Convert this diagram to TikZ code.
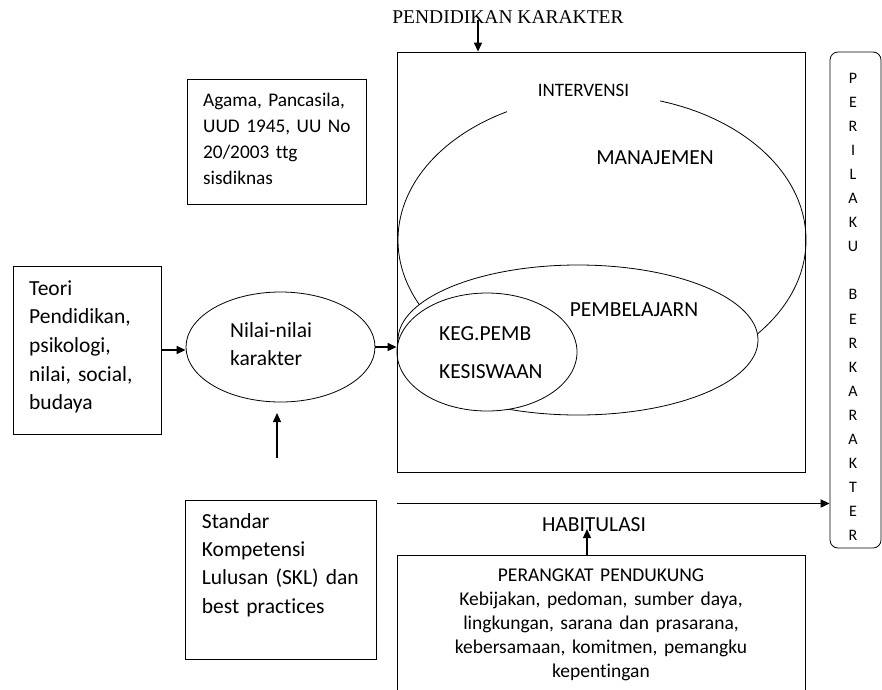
\documentclass[tikz,border=0pt]{standalone}
\usepackage{fontspec}
\setmainfont{Carlito}[Ligatures={NoCommon,NoContextual}]
\newfontfamily\serifttl{Liberation Serif}
\usetikzlibrary{shapes.geometric,arrows.meta}
\begin{document}
\begin{tikzpicture}[x=1pt,y=-1pt,
  box/.style={draw, line width=0.8pt, inner sep=0pt},
  oval/.style={draw, ellipse, line width=0.8pt, inner sep=0pt},
  arr/.style={line width=1.3pt, -{Triangle[length=9pt,width=8pt]}},
  big/.style={inner sep=0pt, font=\fontsize{21.5}{28.7}\selectfont},
  lbl/.style={big, anchor=base west, text width=150pt, align=left},
  mid/.style={inner sep=0pt, font=\fontsize{19.5}{24}\selectfont}
]
\clip (0,0) rectangle (882,689);

% ellipses inside the main box
\node[oval, minimum width=408pt, minimum height=290pt] (manaj) at (602,240) {};
\fill[white] (507,84) rectangle (660,113);
\node[oval, fill=white, minimum width=360pt, minimum height=150pt] (pemb) at (578,340) {};
\node[oval, fill=white, minimum width=180pt, minimum height=118pt] (keg) at (487,352) {};
\node[box, minimum width=408pt, minimum height=420pt] (main) at (601,262) {};

\node[mid, anchor=base, font=\fontsize{19}{22}\selectfont] (interv) at (583.5,96) {INTERVENSI};
\node[big, anchor=base] (manajt) at (655,164) {MANAJEMEN};
\node[big, anchor=base] (pembt) at (634,316) {PEMBELAJARN};
\node[big, anchor=base west] (kegt) at (439,340) {KEG.PEMB};
\node[big, anchor=base west] (kest) at (439,378) {KESISWAAN};

% title
\node[inner sep=0pt, anchor=base, font=\serifttl\fontsize{19.5}{22}\selectfont] (title) at (508,23) {PENDIDIKAN KARAKTER};
\coordinate (ttop) at (478,20);
\draw[arr] (ttop) -- (ttop |- main.north);

% left box
\node[box, minimum width=148pt, minimum height=168pt] (teori) at (87,350) {};
\node[lbl, text width=130pt] (teorit) at (29,295) {Teori\\Pendidikan,\\psikologi,\\nilai, social,\\budaya};

% nilai ellipse
\node[oval, minimum width=189pt, minimum height=110pt] (nilai) at (280.5,347) {};
\node[lbl, text width=120pt] (nilait) at (230,337) {Nilai-nilai\\karakter};

% agama box
\node[box, minimum width=179pt, minimum height=125pt] (agama) at (276.5,141.5) {};
\node[lbl, font=\fontsize{19.3}{25.8}\selectfont, text width=165pt] (agamat) at (203,106.7) {Agama, Pancasila,\\UUD 1945, UU No\\20/2003 ttg\\sisdiknas};

% SKL box
\node[box, minimum width=191pt, minimum height=159pt] (skl) at (280.5,579.5) {};
\node[lbl, font=\fontsize{21.5}{28.3}\selectfont, text width=175pt] (sklt) at (201.7,528.3) {Standar\\Kompetensi\\Lulusan (SKL) dan\\best practices};

% perangkat box
\node[box, minimum width=408pt, minimum height=145pt] (perangkat) at (601,627.5) {};
\node[mid, anchor=base, text width=400pt, align=center] (perangkatt) at (601,581.7) {PERANGKAT PENDUKUNG\\Kebijakan, pedoman, sumber daya,\\lingkungan, sarana dan prasarana,\\kebersamaan, komitmen, pemangku\\kepentingan};

% perilaku box
\node[box, rounded corners=8pt, minimum width=51pt, minimum height=496pt] (peril) at (855.5,300) {};
\begin{scope}
\clip (831,53) rectangle (880,539);
\node[inner sep=0pt, anchor=base, text width=20pt, align=center, font=\fontsize{16}{24.1}\selectfont] (perilt) at (853,83) {P\\E\\R\\I\\L\\A\\K\\U\\[24.1pt]B\\E\\R\\K\\A\\R\\A\\K\\T\\E\\R};
\end{scope}

% connectors
\draw[arr] (teori.east) -- (teori.east -| nilai.west);
\draw[arr] (nilai.east) -- (nilai.east -| main.west);
\coordinate (sklA) at (277,458);
\coordinate (sklB) at (277,413);
\draw[arr] (sklA) -- (sklB);
\coordinate (hab0) at (397,503.5);
\draw[arr, line width=1.8pt] (hab0) -- (hab0 -| peril.west);
\node[big, anchor=base] (habt) at (594,531) {HABITULASI};
\coordinate (hbt) at (587,529);
\draw[arr] (hbt |- perangkat.north) -- (hbt);
\end{tikzpicture}
\end{document}
